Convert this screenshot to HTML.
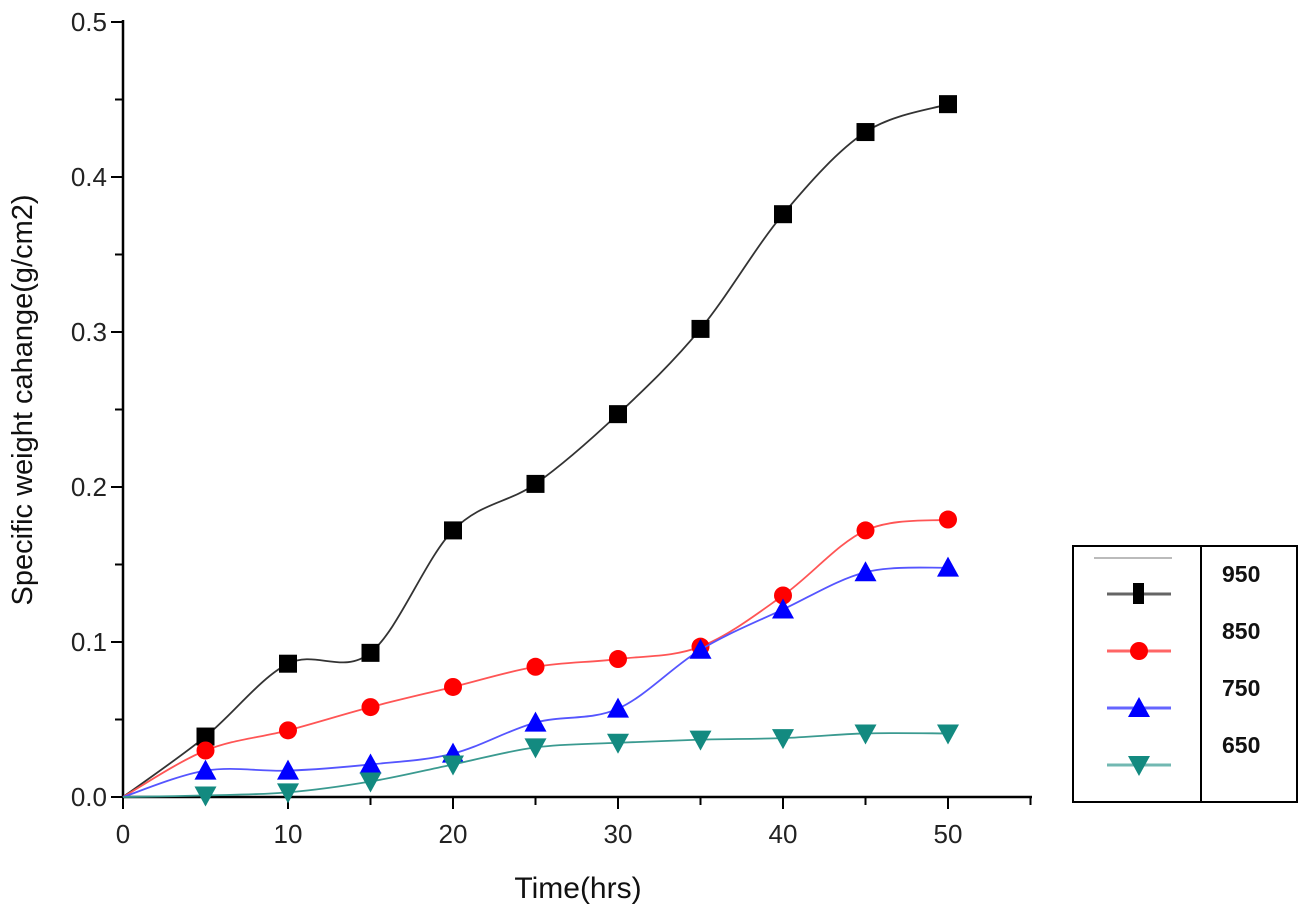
<!DOCTYPE html>
<html><head><meta charset="utf-8"><style>
body{margin:0;background:#fff;font-family:"Liberation Sans",Arial,sans-serif}
svg{display:block}
</style></head><body>
<svg id="chart" width="1305" height="922"></svg>
<script>
const xValues=[0,5,10,15,20,25,30,35,40,45,50];
const s950=[0,0.039,0.086,0.093,0.172,0.202,0.247,0.302,0.376,0.429,0.447];
const s850=[0,0.030,0.043,0.058,0.071,0.084,0.089,0.097,0.130,0.172,0.179];
const s750=[0,0.017,0.017,0.021,0.028,0.048,0.057,0.095,0.121,0.145,0.148];
const s650=[0,0.001,0.003,0.010,0.021,0.032,0.035,0.037,0.038,0.041,0.041];
const seriesNames=["950","850","750","650"];
const xTicks=[0,10,20,30,40,50];
const yTicks=[0.0,0.1,0.2,0.3,0.4,0.5];
const NS="http://www.w3.org/2000/svg";
const svg=document.getElementById('chart');
const X0=123,XS=16.5,Y0=797,YS=1550;
const xs=v=>X0+v*XS, ys=v=>Y0-v*YS;
function el(t,a,p){const e=document.createElementNS(NS,t);for(const k in a)e.setAttribute(k,a[k]);(p||svg).appendChild(e);return e;}
let ax=el('line',{x1:X0,y1:Y0,x2:1032,y2:Y0,stroke:'#000','stroke-width':2.5});

let ay=el('line',{x1:X0,y1:Y0,x2:X0,y2:20,stroke:'#000','stroke-width':2.5});

for(let v=0;v<=55;v+=5){const major=v%10===0;el('line',{x1:xs(v),y1:Y0,x2:xs(v),y2:Y0+(major?12:8),stroke:'#000','stroke-width':2});}
xTicks.forEach(v=>{const t=el('text',{x:xs(v),y:Y0+46,'text-anchor':'middle','font-size':26,fill:'#222'});t.textContent=v;
});
for(let i=0;i<=10;i++){const v=i*0.05;el('line',{x1:X0,y1:ys(v),x2:X0-(i%2===0?12:8),y2:ys(v),stroke:'#000','stroke-width':2});}
yTicks.forEach(v=>{const t=el('text',{x:X0-16,y:ys(v)+9,'text-anchor':'end','font-size':26,fill:'#222'});t.textContent=v.toFixed(1);
});
let xt=el('text',{x:578,y:898,'text-anchor':'middle','font-size':30,fill:'#111'});xt.textContent='Time(hrs)';

let yt=el('text',{x:0,y:0,'text-anchor':'middle','font-size':29,fill:'#111',transform:'translate(32,400) rotate(-90)'});yt.textContent='Specific weight cahange(g/cm2)';

function spline(pts){let d=`M${pts[0][0]},${pts[0][1]}`;for(let i=0;i<pts.length-1;i++){const p0=pts[Math.max(0,i-1)],p1=pts[i],p2=pts[i+1],p3=pts[Math.min(pts.length-1,i+2)];
d+=` C${p1[0]+(p2[0]-p0[0])/6},${p1[1]+(p2[1]-p0[1])/6} ${p2[0]-(p3[0]-p1[0])/6},${p2[1]-(p3[1]-p1[1])/6} ${p2[0]},${p2[1]}`;}return d;}
function marker(type,x,y,c,g){
 if(type==='sq')return el('rect',{x:x-9,y:y-9,width:18,height:18,fill:c},g);
 if(type==='ci')return el('circle',{cx:x,cy:y,r:9,fill:c},g);
 if(type==='up')return el('polygon',{points:`${x},${y-11} ${x-11},${y+9} ${x+11},${y+9}`,fill:c},g);
 return el('polygon',{points:`${x},${y+11} ${x-11},${y-9} ${x+11},${y-9}`,fill:c},g);}
const series=[[s950,'#000','sq'],[s850,'#f00','ci'],[s750,'#00f','up'],[s650,'#138a80','dn']];
const lineCol=['#333','#f55','#55f','#3a9a90'];
series.forEach((s,k)=>{const g=el('g',{});
 const pts=xValues.map((x,i)=>[xs(x),ys(s[0][i])]);
 el('path',{d:spline(pts),fill:'none',stroke:lineCol[k],'stroke-width':1.8},g);
 pts.forEach((p,i)=>{if(i>0){const m=marker(s[2],p[0],p[1],s[1],g);}});});
const lg=el('g',{});
el('rect',{x:1073,y:546,width:224,height:256,fill:'#fff',stroke:'#000','stroke-width':2},lg);
el('line',{x1:1201,y1:546,x2:1201,y2:802,stroke:'#000','stroke-width':2},lg);
el('line',{x1:1094,y1:558,x2:1172,y2:558,stroke:'#bbb','stroke-width':2},lg);
series.forEach((s,k)=>{const y=594+k*57;const g=el('g',{},lg);
 el('line',{x1:1107,y1:y,x2:1171,y2:y,stroke:s[1],'stroke-width':3,opacity:0.6},g);
 if(s[2]==='sq')el('rect',{x:1133,y:y-11,width:11,height:21,fill:'#000'},g);else marker(s[2],1139,y,s[1],g);
 const t=el('text',{x:1222,y:582+k*57,'font-size':23,'font-weight':'bold',fill:'#111'},g);t.textContent=seriesNames[k];});
</script>
</body></html>
